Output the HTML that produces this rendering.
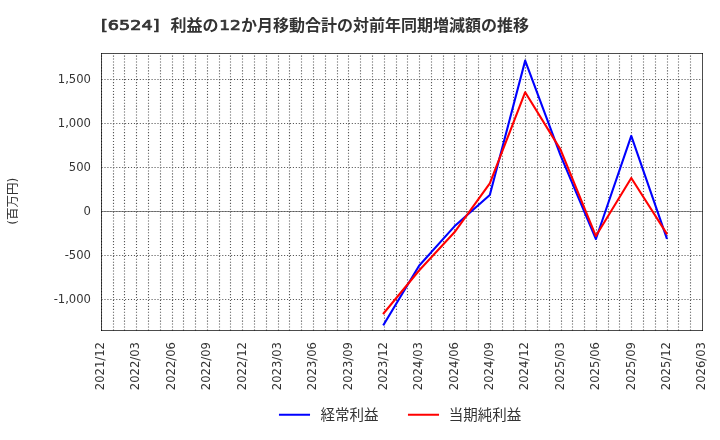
<!DOCTYPE html>
<html lang="ja"><head><meta charset="utf-8"><title>[6524] 利益の12か月移動合計の対前年同期増減額の推移</title>
<style>html,body{margin:0;padding:0;background:#fff;}body{width:720px;height:440px;overflow:hidden;}svg{display:block;}text{font-family:"DejaVu Sans", "Liberation Sans", "Noto Sans CJK JP", sans-serif;fill:#333333;}.t{font-size:11.6px;}.lg{font-size:14.5px;}.ti{font-size:16px;font-weight:bold;}.tn{font-size:13.7px;stroke:#333;stroke-width:0.7px;}.yl{font-size:12.5px;}</style></head><body>
<svg width="720" height="440" viewBox="0 0 720 440">
<rect x="0" y="0" width="720" height="440" fill="#ffffff"/>
<line x1="101.5" y1="211.5" x2="702.5" y2="211.5" stroke="#000" stroke-opacity="0.45" stroke-width="1"/>
<clipPath id="ax"><rect x="101.0" y="53.0" width="602.0" height="278.0"/></clipPath>
<g clip-path="url(#ax)" stroke="#585858" stroke-width="1.1111" stroke-dasharray="1.1111 1.8333" fill="none">
<line x1="101.5" y1="330.5" x2="101.5" y2="53.5"/>
<line x1="113.5" y1="330.5" x2="113.5" y2="53.5"/>
<line x1="124.5" y1="330.5" x2="124.5" y2="53.5"/>
<line x1="136.5" y1="330.5" x2="136.5" y2="53.5"/>
<line x1="148.5" y1="330.5" x2="148.5" y2="53.5"/>
<line x1="160.5" y1="330.5" x2="160.5" y2="53.5"/>
<line x1="172.5" y1="330.5" x2="172.5" y2="53.5"/>
<line x1="183.5" y1="330.5" x2="183.5" y2="53.5"/>
<line x1="195.5" y1="330.5" x2="195.5" y2="53.5"/>
<line x1="207.5" y1="330.5" x2="207.5" y2="53.5"/>
<line x1="219.5" y1="330.5" x2="219.5" y2="53.5"/>
<line x1="230.5" y1="330.5" x2="230.5" y2="53.5"/>
<line x1="242.5" y1="330.5" x2="242.5" y2="53.5"/>
<line x1="254.5" y1="330.5" x2="254.5" y2="53.5"/>
<line x1="266.5" y1="330.5" x2="266.5" y2="53.5"/>
<line x1="278.5" y1="330.5" x2="278.5" y2="53.5"/>
<line x1="289.5" y1="330.5" x2="289.5" y2="53.5"/>
<line x1="301.5" y1="330.5" x2="301.5" y2="53.5"/>
<line x1="313.5" y1="330.5" x2="313.5" y2="53.5"/>
<line x1="325.5" y1="330.5" x2="325.5" y2="53.5"/>
<line x1="337.5" y1="330.5" x2="337.5" y2="53.5"/>
<line x1="348.5" y1="330.5" x2="348.5" y2="53.5"/>
<line x1="360.5" y1="330.5" x2="360.5" y2="53.5"/>
<line x1="372.5" y1="330.5" x2="372.5" y2="53.5"/>
<line x1="384.5" y1="330.5" x2="384.5" y2="53.5"/>
<line x1="396.5" y1="330.5" x2="396.5" y2="53.5"/>
<line x1="407.5" y1="330.5" x2="407.5" y2="53.5"/>
<line x1="419.5" y1="330.5" x2="419.5" y2="53.5"/>
<line x1="431.5" y1="330.5" x2="431.5" y2="53.5"/>
<line x1="443.5" y1="330.5" x2="443.5" y2="53.5"/>
<line x1="454.5" y1="330.5" x2="454.5" y2="53.5"/>
<line x1="466.5" y1="330.5" x2="466.5" y2="53.5"/>
<line x1="478.5" y1="330.5" x2="478.5" y2="53.5"/>
<line x1="490.5" y1="330.5" x2="490.5" y2="53.5"/>
<line x1="502.5" y1="330.5" x2="502.5" y2="53.5"/>
<line x1="513.5" y1="330.5" x2="513.5" y2="53.5"/>
<line x1="525.5" y1="330.5" x2="525.5" y2="53.5"/>
<line x1="537.5" y1="330.5" x2="537.5" y2="53.5"/>
<line x1="549.5" y1="330.5" x2="549.5" y2="53.5"/>
<line x1="561.5" y1="330.5" x2="561.5" y2="53.5"/>
<line x1="572.5" y1="330.5" x2="572.5" y2="53.5"/>
<line x1="584.5" y1="330.5" x2="584.5" y2="53.5"/>
<line x1="596.5" y1="330.5" x2="596.5" y2="53.5"/>
<line x1="608.5" y1="330.5" x2="608.5" y2="53.5"/>
<line x1="619.5" y1="330.5" x2="619.5" y2="53.5"/>
<line x1="631.5" y1="330.5" x2="631.5" y2="53.5"/>
<line x1="643.5" y1="330.5" x2="643.5" y2="53.5"/>
<line x1="655.5" y1="330.5" x2="655.5" y2="53.5"/>
<line x1="667.5" y1="330.5" x2="667.5" y2="53.5"/>
<line x1="678.5" y1="330.5" x2="678.5" y2="53.5"/>
<line x1="690.5" y1="330.5" x2="690.5" y2="53.5"/>
<line x1="101.5" y1="79.5" x2="702.5" y2="79.5"/>
<line x1="101.5" y1="123.5" x2="702.5" y2="123.5"/>
<line x1="101.5" y1="167.5" x2="702.5" y2="167.5"/>
<line x1="101.5" y1="211.5" x2="702.5" y2="211.5"/>
<line x1="101.5" y1="255.5" x2="702.5" y2="255.5"/>
<line x1="101.5" y1="299.5" x2="702.5" y2="299.5"/>
</g>
<polyline points="383.72,324.46 419.08,265.76 454.45,226.34 489.81,195.01 525.18,60.63 560.54,155.32 595.91,239.01 631.27,135.87 666.64,237.86" fill="none" stroke="#0000ff" stroke-width="2.08" stroke-linejoin="round" stroke-linecap="square"/>
<polyline points="383.72,313.28 419.08,270.51 454.45,232.32 489.81,183.39 525.18,92.22 560.54,149.60 595.91,236.02 631.27,177.94 666.64,233.46" fill="none" stroke="#ff0000" stroke-width="2.08" stroke-linejoin="round" stroke-linecap="square"/>
<g stroke="#000" stroke-opacity="0.70" stroke-width="1" stroke-linecap="square" fill="none">
<line x1="101.5" y1="53.5" x2="101.5" y2="330.5"/>
<line x1="702.5" y1="53.5" x2="702.5" y2="330.5"/>
<line x1="101.5" y1="330.5" x2="702.5" y2="330.5"/>
<line x1="101.5" y1="53.5" x2="702.5" y2="53.5"/>
</g>
<text class="t" x="91" y="82.6" text-anchor="end">1,500</text>
<text class="t" x="91" y="126.6" text-anchor="end">1,000</text>
<text class="t" x="91" y="170.6" text-anchor="end">500</text>
<text class="t" x="91" y="214.6" text-anchor="end">0</text>
<text class="t" x="91" y="258.6" text-anchor="end">-500</text>
<text class="t" x="91" y="302.6" text-anchor="end">-1,000</text>
<text class="t" transform="translate(104.0,342) rotate(-90)" text-anchor="end">2021/12</text>
<text class="t" transform="translate(139.4,342) rotate(-90)" text-anchor="end">2022/03</text>
<text class="t" transform="translate(174.7,342) rotate(-90)" text-anchor="end">2022/06</text>
<text class="t" transform="translate(210.1,342) rotate(-90)" text-anchor="end">2022/09</text>
<text class="t" transform="translate(245.5,342) rotate(-90)" text-anchor="end">2022/12</text>
<text class="t" transform="translate(280.8,342) rotate(-90)" text-anchor="end">2023/03</text>
<text class="t" transform="translate(316.2,342) rotate(-90)" text-anchor="end">2023/06</text>
<text class="t" transform="translate(351.6,342) rotate(-90)" text-anchor="end">2023/09</text>
<text class="t" transform="translate(386.9,342) rotate(-90)" text-anchor="end">2023/12</text>
<text class="t" transform="translate(422.3,342) rotate(-90)" text-anchor="end">2024/03</text>
<text class="t" transform="translate(457.6,342) rotate(-90)" text-anchor="end">2024/06</text>
<text class="t" transform="translate(493.0,342) rotate(-90)" text-anchor="end">2024/09</text>
<text class="t" transform="translate(528.4,342) rotate(-90)" text-anchor="end">2024/12</text>
<text class="t" transform="translate(563.7,342) rotate(-90)" text-anchor="end">2025/03</text>
<text class="t" transform="translate(599.1,342) rotate(-90)" text-anchor="end">2025/06</text>
<text class="t" transform="translate(634.5,342) rotate(-90)" text-anchor="end">2025/09</text>
<text class="t" transform="translate(669.8,342) rotate(-90)" text-anchor="end">2025/12</text>
<text class="t" transform="translate(705.2,342) rotate(-90)" text-anchor="end">2026/03</text>
<text class="yl" transform="translate(17.3,201.2) rotate(-90)" text-anchor="middle">(百万円)</text>
<text class="tn" x="101" y="30.3" textLength="58.5" lengthAdjust="spacingAndGlyphs">[6524]</text>
<text class="ti" x="170.6" y="30.8">利益の</text>
<text class="tn" x="219.2" y="30.3" textLength="21.6" lengthAdjust="spacingAndGlyphs">12</text>
<text class="ti" x="241" y="30.8">か月移動合計の対前年同期増減額の推移</text>
<line x1="280" y1="414.8" x2="309" y2="414.8" stroke="#0000ff" stroke-width="2.08" stroke-linecap="square"/>
<text class="lg" x="320.5" y="420.4">経常利益</text>
<line x1="409" y1="414.8" x2="438" y2="414.8" stroke="#ff0000" stroke-width="2.08" stroke-linecap="square"/>
<text class="lg" x="448.8" y="420.4">当期純利益</text>
</svg></body></html>
